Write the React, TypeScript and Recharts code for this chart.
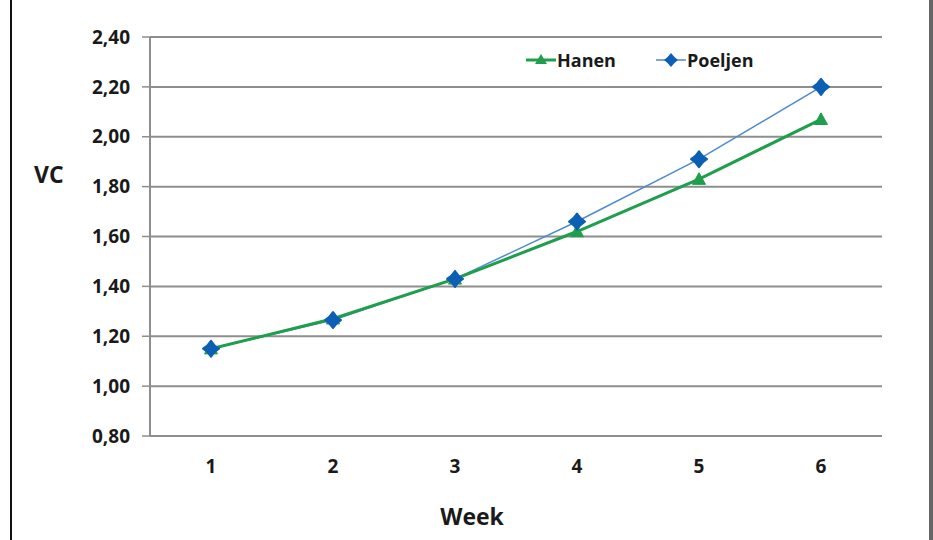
import React from "react";
import { LineChart, Line, XAxis, YAxis, CartesianGrid } from "recharts";

const weeks = [1, 2, 3, 4, 5, 6];
const hanen = [1.15, 1.27, 1.43, 1.62, 1.83, 2.07];
const poeljen = [1.15, 1.265, 1.43, 1.66, 1.91, 2.2];
const yTicks = [0.8, 1.0, 1.2, 1.4, 1.6, 1.8, 2.0, 2.2, 2.4];
const boundaryTicks = [0.5, 1.5, 2.5, 3.5, 4.5, 5.5, 6.5];
const seriesNames = ["Hanen", "Poeljen"];

const data = weeks.map((w, i) => ({ week: w, hanen: hanen[i], poeljen: poeljen[i] }));

const GREEN = "#1f9e4c";
const BLUE_LINE = "#4f8bcc";
const BLUE_DOT = "#0d5fb4";
const GRID = "#8e8e8e";
const FONT = "'Open Sans', 'Noto Sans', sans-serif";

const Diamond = (props: any) => {
  const { cx, cy, index } = props;
  if (cx == null || cy == null) return <g key={`d${index}`} />;
  const r = 8;
  const k = 3;
  const d = `M${cx},${cy - r} Q${cx + k},${cy - k} ${cx + r},${cy} Q${cx + k},${cy + k} ${cx},${cy + r} Q${cx - k},${cy + k} ${cx - r},${cy} Q${cx - k},${cy - k} ${cx},${cy - r}Z`;
  return <path key={`d${index}`} d={d} fill={BLUE_DOT} stroke={BLUE_DOT} strokeWidth={2} strokeLinejoin="round" />;
};

const Triangle = (props: any) => {
  const { cx, cy, index } = props;
  if (cx == null || cy == null) return <g key={`t${index}`} />;
  const s = 6.5;
  const d = `M${cx},${cy - s} L${cx + s},${cy + s * 0.8} L${cx - s},${cy + s * 0.8}Z`;
  return <path key={`t${index}`} d={d} fill={GREEN} stroke={GREEN} strokeWidth={1} />;
};

const LegendBox = () => (
  <div style={{ position: "absolute", left: 526, top: 48, display: "flex", alignItems: "center", fontFamily: FONT, fontWeight: 700, fontSize: 18, color: "#1a1a1a" }}>
    <svg width={30} height={16} style={{ marginRight: 1 }}>
      <line x1={0} y1={8} x2={30} y2={8} stroke={GREEN} strokeWidth={3} />
      <path d="M15,2 L21,12 L9,12Z" fill={GREEN} />
    </svg>
    <span>{seriesNames[0]}</span>
    <svg width={30} height={16} style={{ marginLeft: 40, marginRight: 1 }}>
      <line x1={0} y1={8} x2={30} y2={8} stroke={BLUE_LINE} strokeWidth={1.5} />
      <path d="M15,1 Q18,5 22,8 Q18,11 15,15 Q12,11 8,8 Q12,5 15,1Z" fill={BLUE_DOT} />
    </svg>
    <span>{seriesNames[1]}</span>
  </div>
);

export default function App() {
  return (
    <div style={{ position: "absolute", left: 0, top: 0, width: 933, height: 540, background: "#fff", overflow: "hidden" }}>
      <LineChart
        width={933}
        height={540}
        data={data}
        margin={{ top: 37, right: 51, left: 90, bottom: 64 }}
      >
        <CartesianGrid horizontal vertical={false} stroke={GRID} strokeWidth={2} xAxisId="lab" yAxisId="v" />
        <XAxis
          xAxisId="b"
          type="number"
          dataKey="week"
          domain={[0.5, 6.5]}
          ticks={boundaryTicks}
          tick={false}
          height={0}
          tickSize={8}
          axisLine={{ stroke: GRID, strokeWidth: 2 }}
          tickLine={{ stroke: GRID, strokeWidth: 1.5 }}
        />
        <XAxis
          xAxisId="lab"
          type="number"
          dataKey="week"
          domain={[0.5, 6.5]}
          ticks={weeks}
          height={40}
          tickSize={0}
          tickMargin={24}
          axisLine={false}
          tickLine={false}
          tick={{ fontFamily: FONT, fontWeight: 700, fontSize: 19, fill: "#1a1a1a" }}
        />
        <YAxis
          yAxisId="v"
          type="number"
          domain={[0.8, 2.4]}
          ticks={yTicks}
          width={60}
          tickSize={8}
          tickMargin={12}
          axisLine={{ stroke: GRID, strokeWidth: 2 }}
          tickLine={{ stroke: GRID, strokeWidth: 1.5 }}
          tickFormatter={(v: number) => v.toFixed(2).replace(".", ",")}
          tick={{ fontFamily: FONT, fontWeight: 700, fontSize: 19, fill: "#1a1a1a" }}
        />
        <Line
          xAxisId="lab"
          yAxisId="v"
          dataKey="poeljen"
          stroke={BLUE_LINE}
          strokeWidth={1.5}
          dot={false}
          isAnimationActive={false}
        />
        <Line
          xAxisId="lab"
          yAxisId="v"
          dataKey="hanen"
          name={seriesNames[0]}
          stroke={GREEN}
          strokeWidth={3}
          dot={Triangle}
          activeDot={false}
          isAnimationActive={false}
        />
        <Line
          xAxisId="lab"
          yAxisId="v"
          dataKey="poeljen"
          name={seriesNames[1]}
          stroke="none"
          strokeWidth={0}
          dot={Diamond}
          activeDot={false}
          isAnimationActive={false}
        />
      </LineChart>
      <LegendBox />
      <div style={{ position: "absolute", left: 34, top: 158, fontFamily: FONT, fontWeight: 700, fontSize: 23, color: "#1a1a1a" }}>VC</div>
      <div style={{ position: "absolute", left: 427, top: 500, width: 90, textAlign: "center", fontFamily: FONT, fontWeight: 700, fontSize: 23, color: "#1a1a1a" }}>Week</div>
      <div style={{ position: "absolute", left: 10, top: 0, width: 2, height: 540, background: "#111" }} />
      <div style={{ position: "absolute", left: 929, top: 0, width: 4, height: 540, background: "#666" }} />
    </div>
  );
}
